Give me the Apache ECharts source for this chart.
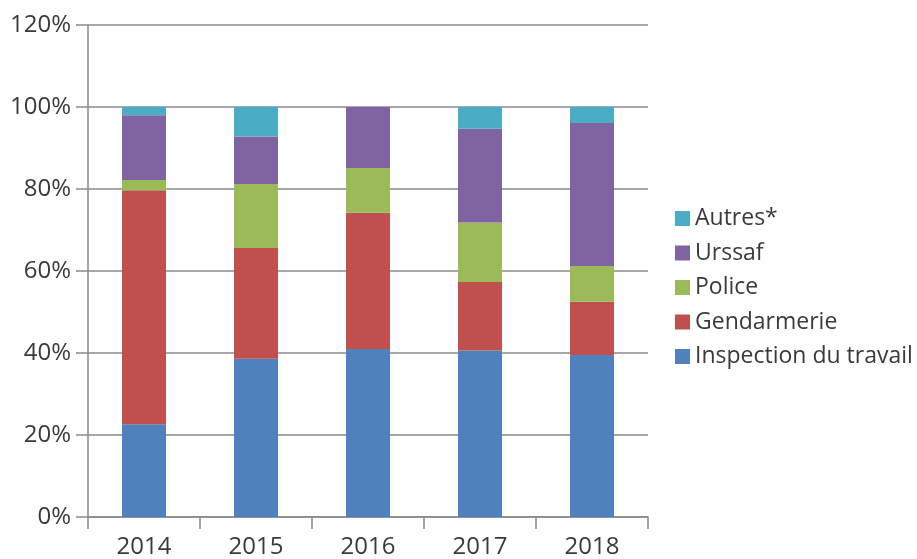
<!DOCTYPE html>
<html>
<head>
<meta charset="utf-8">
<script src="https://cdn.jsdelivr.net/npm/echarts@6/dist/echarts.min.js"></script>
<style>
  html, body { margin: 0; padding: 0; background: #fff; }
  #chart { width: 917px; height: 559px; }
</style>
</head>
<body>
<div id="chart"></div>
<script>
// Share of recorded offences by reporting body, per year (in %)
const years = ['2014', '2015', '2016', '2017', '2018'];
const inspection = [22.6, 38.6, 41.0, 40.6, 39.5];
const gendarmerie = [57.1, 27.0, 33.2, 16.7, 13.0];
const police = [2.5, 15.6, 10.9, 14.5, 8.7];
const urssaf = [15.8, 11.6, 14.9, 22.9, 34.9];
const autres = [2.0, 7.2, 0.0, 5.3, 3.9];
const yTicks = [0, 20, 40, 60, 80, 100, 120];

const FONT = '"Open Sans", "Noto Sans", sans-serif';
const TEXT = '#3a3a3a';
const LINE = '#8a8a8a';

const seriesDefs = [
  { name: 'Inspection du travail', data: inspection, color: '#4F81BD' },
  { name: 'Gendarmerie', data: gendarmerie, color: '#C0504D' },
  { name: 'Police', data: police, color: '#9BBB59' },
  { name: 'Urssaf', data: urssaf, color: '#8064A2' },
  { name: 'Autres*', data: autres, color: '#4BACC6' }
];

const chart = echarts.init(document.getElementById('chart'), null, { renderer: 'canvas' });
chart.setOption({
  animation: false,
  backgroundColor: '#fff',
  textStyle: { fontFamily: FONT },
  grid: { left: 88, right: 269, top: 25, bottom: 38.5, containLabel: false },
  legend: {
    orient: 'vertical',
    left: 675,
    top: 207,
    padding: 0,
    itemWidth: 15,
    itemHeight: 15,
    itemGap: 11.5,
    icon: 'rect',
    data: ['Autres*', 'Urssaf', 'Police', 'Gendarmerie', 'Inspection du travail'],
    textStyle: { fontFamily: FONT, fontSize: 23, color: TEXT }
  },
  xAxis: {
    type: 'category',
    data: years,
    boundaryGap: true,
    axisLine: { lineStyle: { color: LINE, width: 1.5 } },
    axisTick: { show: true, alignWithLabel: false, length: 12, lineStyle: { color: LINE, width: 1.5 } },
    axisLabel: { fontFamily: FONT, fontSize: 24, color: TEXT, margin: 18 }
  },
  yAxis: {
    type: 'value',
    min: yTicks[0],
    max: yTicks[yTicks.length - 1],
    interval: yTicks[1] - yTicks[0],
    axisLine: { show: true, lineStyle: { color: LINE, width: 1.5 } },
    axisTick: { show: true, length: 12, lineStyle: { color: LINE, width: 1.5 } },
    splitLine: { show: true, lineStyle: { color: LINE, width: 1.5 } },
    axisLabel: { fontFamily: FONT, fontSize: 24, color: TEXT, margin: 17, formatter: '{value}%' }
  },
  series: seriesDefs.map(s => ({
    name: s.name,
    type: 'bar',
    stack: 'total',
    data: s.data,
    barWidth: 44,
    itemStyle: { color: s.color },
    emphasis: { disabled: true }
  }))
});
</script>
</body>
</html>
